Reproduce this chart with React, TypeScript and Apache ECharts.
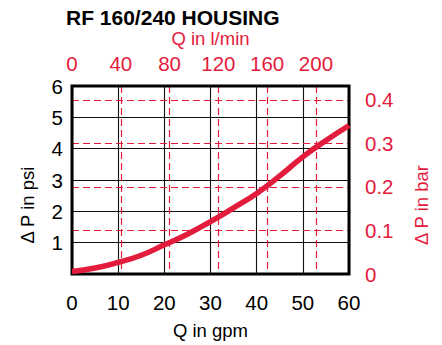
import React, { useEffect, useRef } from "react";
import * as echarts from "echarts";

const titleText = "RF 160/240 HOUSING";
const gpmName = "Q in gpm";
const lpmName = "Q in l/min";
const psiName = "Δ P in psi";
const barName = "Δ P in bar";

// flow in gpm and pressure drop in psi
const flowGpm = [0, 5, 10, 15, 20, 25, 30, 35, 40, 45, 50, 55, 60];
const dpPsi = [0.08, 0.19, 0.37, 0.6, 0.93, 1.27, 1.67, 2.11, 2.57, 3.13, 3.74, 4.26, 4.74];

const gpmMax = 60;
const lpmMax = 227.1; // 60 gpm in l/min
const psiMax = 6;
const barMax = 0.432;

const RED = "#e31b3d";
const FONT = "'Liberation Sans', Arial, Helvetica, sans-serif";

export default function App() {
  const ref = useRef<HTMLDivElement>(null);
  useEffect(() => {
    if (!ref.current) return;
    const chart = echarts.init(ref.current, undefined, { renderer: "svg" });
    const redDash = { show: true, lineStyle: { color: RED, width: 1.2, type: [7, 4] as any } };
    const blackLine = { show: true, lineStyle: { color: "#111", width: 1.1, type: "solid" as const } };
    chart.setOption({
      animation: false,
      backgroundColor: "#fff",
      textStyle: { fontFamily: FONT },
      title: {
        text: titleText,
        left: 61,
        top: 2,
        textStyle: { fontSize: 21, fontWeight: "bold", color: "#000", fontFamily: FONT },
      },
      grid: {
        left: 72,
        right: 93,
        top: 86,
        bottom: 65,
        show: true,
        borderWidth: 3,
        borderColor: "#000",
        backgroundColor: "transparent",
        z: 5,
      },
      xAxis: [
        {
          type: "value",
          position: "bottom",
          min: 0,
          max: gpmMax,
          interval: 10,
          z: 1,
          axisLine: { show: false },
          axisTick: { show: false },
          splitLine: blackLine,
          axisLabel: { margin: 18, fontSize: 20.5, color: "#000", fontFamily: FONT },
          name: gpmName,
          nameLocation: "middle",
          nameGap: 47,
          nameTextStyle: { fontSize: 18.5, color: "#000", fontFamily: FONT },
        },
        {
          type: "value",
          position: "top",
          min: 0,
          max: lpmMax,
          interval: 40,
          z: 2,
          axisLine: { show: false },
          axisTick: { show: false },
          splitLine: redDash,
          axisLabel: {
            margin: 12,
            fontSize: 20.5,
            color: RED,
            fontFamily: FONT,
            showMaxLabel: false,
            formatter: (v: number) => (v % 40 === 0 ? String(v) : ""),
          },
          name: lpmName,
          nameLocation: "middle",
          nameGap: 38,
          nameTextStyle: { fontSize: 18.5, color: RED, fontFamily: FONT },
        },
      ],
      yAxis: [
        {
          type: "value",
          position: "left",
          min: 0,
          max: psiMax,
          interval: 1,
          z: 1,
          axisLine: { show: false },
          axisTick: { show: false },
          splitLine: blackLine,
          axisLabel: {
            margin: 9,
            fontSize: 20.5,
            color: "#000",
            fontFamily: FONT,
            padding: [8, 0, 0, 0],
            formatter: (v: number) => (v === 0 ? "" : String(v)),
          },
        },
        {
          type: "value",
          position: "right",
          min: 0,
          max: barMax,
          interval: 0.1,
          z: 2,
          axisLine: { show: false },
          axisTick: { show: false },
          splitLine: redDash,
          axisLabel: {
            margin: 16,
            fontSize: 20.5,
            color: RED,
            fontFamily: FONT,
            showMaxLabel: false,
            formatter: (v: number) => {
              const r = Math.round(v * 10) / 10;
              return Math.abs(v - r) < 1e-6 ? String(r) : "";
            },
          },
        },
      ],
      graphic: [
        {
          type: "text",
          x: 27,
          y: 205,
          rotation: Math.PI / 2,
          style: {
            text: psiName,
            fontSize: 18.5,
            fontFamily: FONT,
            fill: "#000",
            align: "center",
            verticalAlign: "middle",
          },
        },
        {
          type: "text",
          x: 421,
          y: 205,
          rotation: Math.PI / 2,
          style: {
            text: barName,
            fontSize: 18.5,
            fontFamily: FONT,
            fill: RED,
            align: "center",
            verticalAlign: "middle",
          },
        },
      ],
      series: [
        {
          type: "line",
          xAxisIndex: 0,
          yAxisIndex: 0,
          data: flowGpm.map((x, i) => [x, dpPsi[i]]),
          smooth: true,
          showSymbol: false,
          symbol: "none",
          z: 6,
          lineStyle: { color: RED, width: 5.5 },
        },
      ],
    });
    return () => chart.dispose();
  }, []);
  return (
    <div
      ref={ref}
      style={{ position: "fixed", left: 0, top: 0, width: 442, height: 345, background: "#fff" }}
    />
  );
}
